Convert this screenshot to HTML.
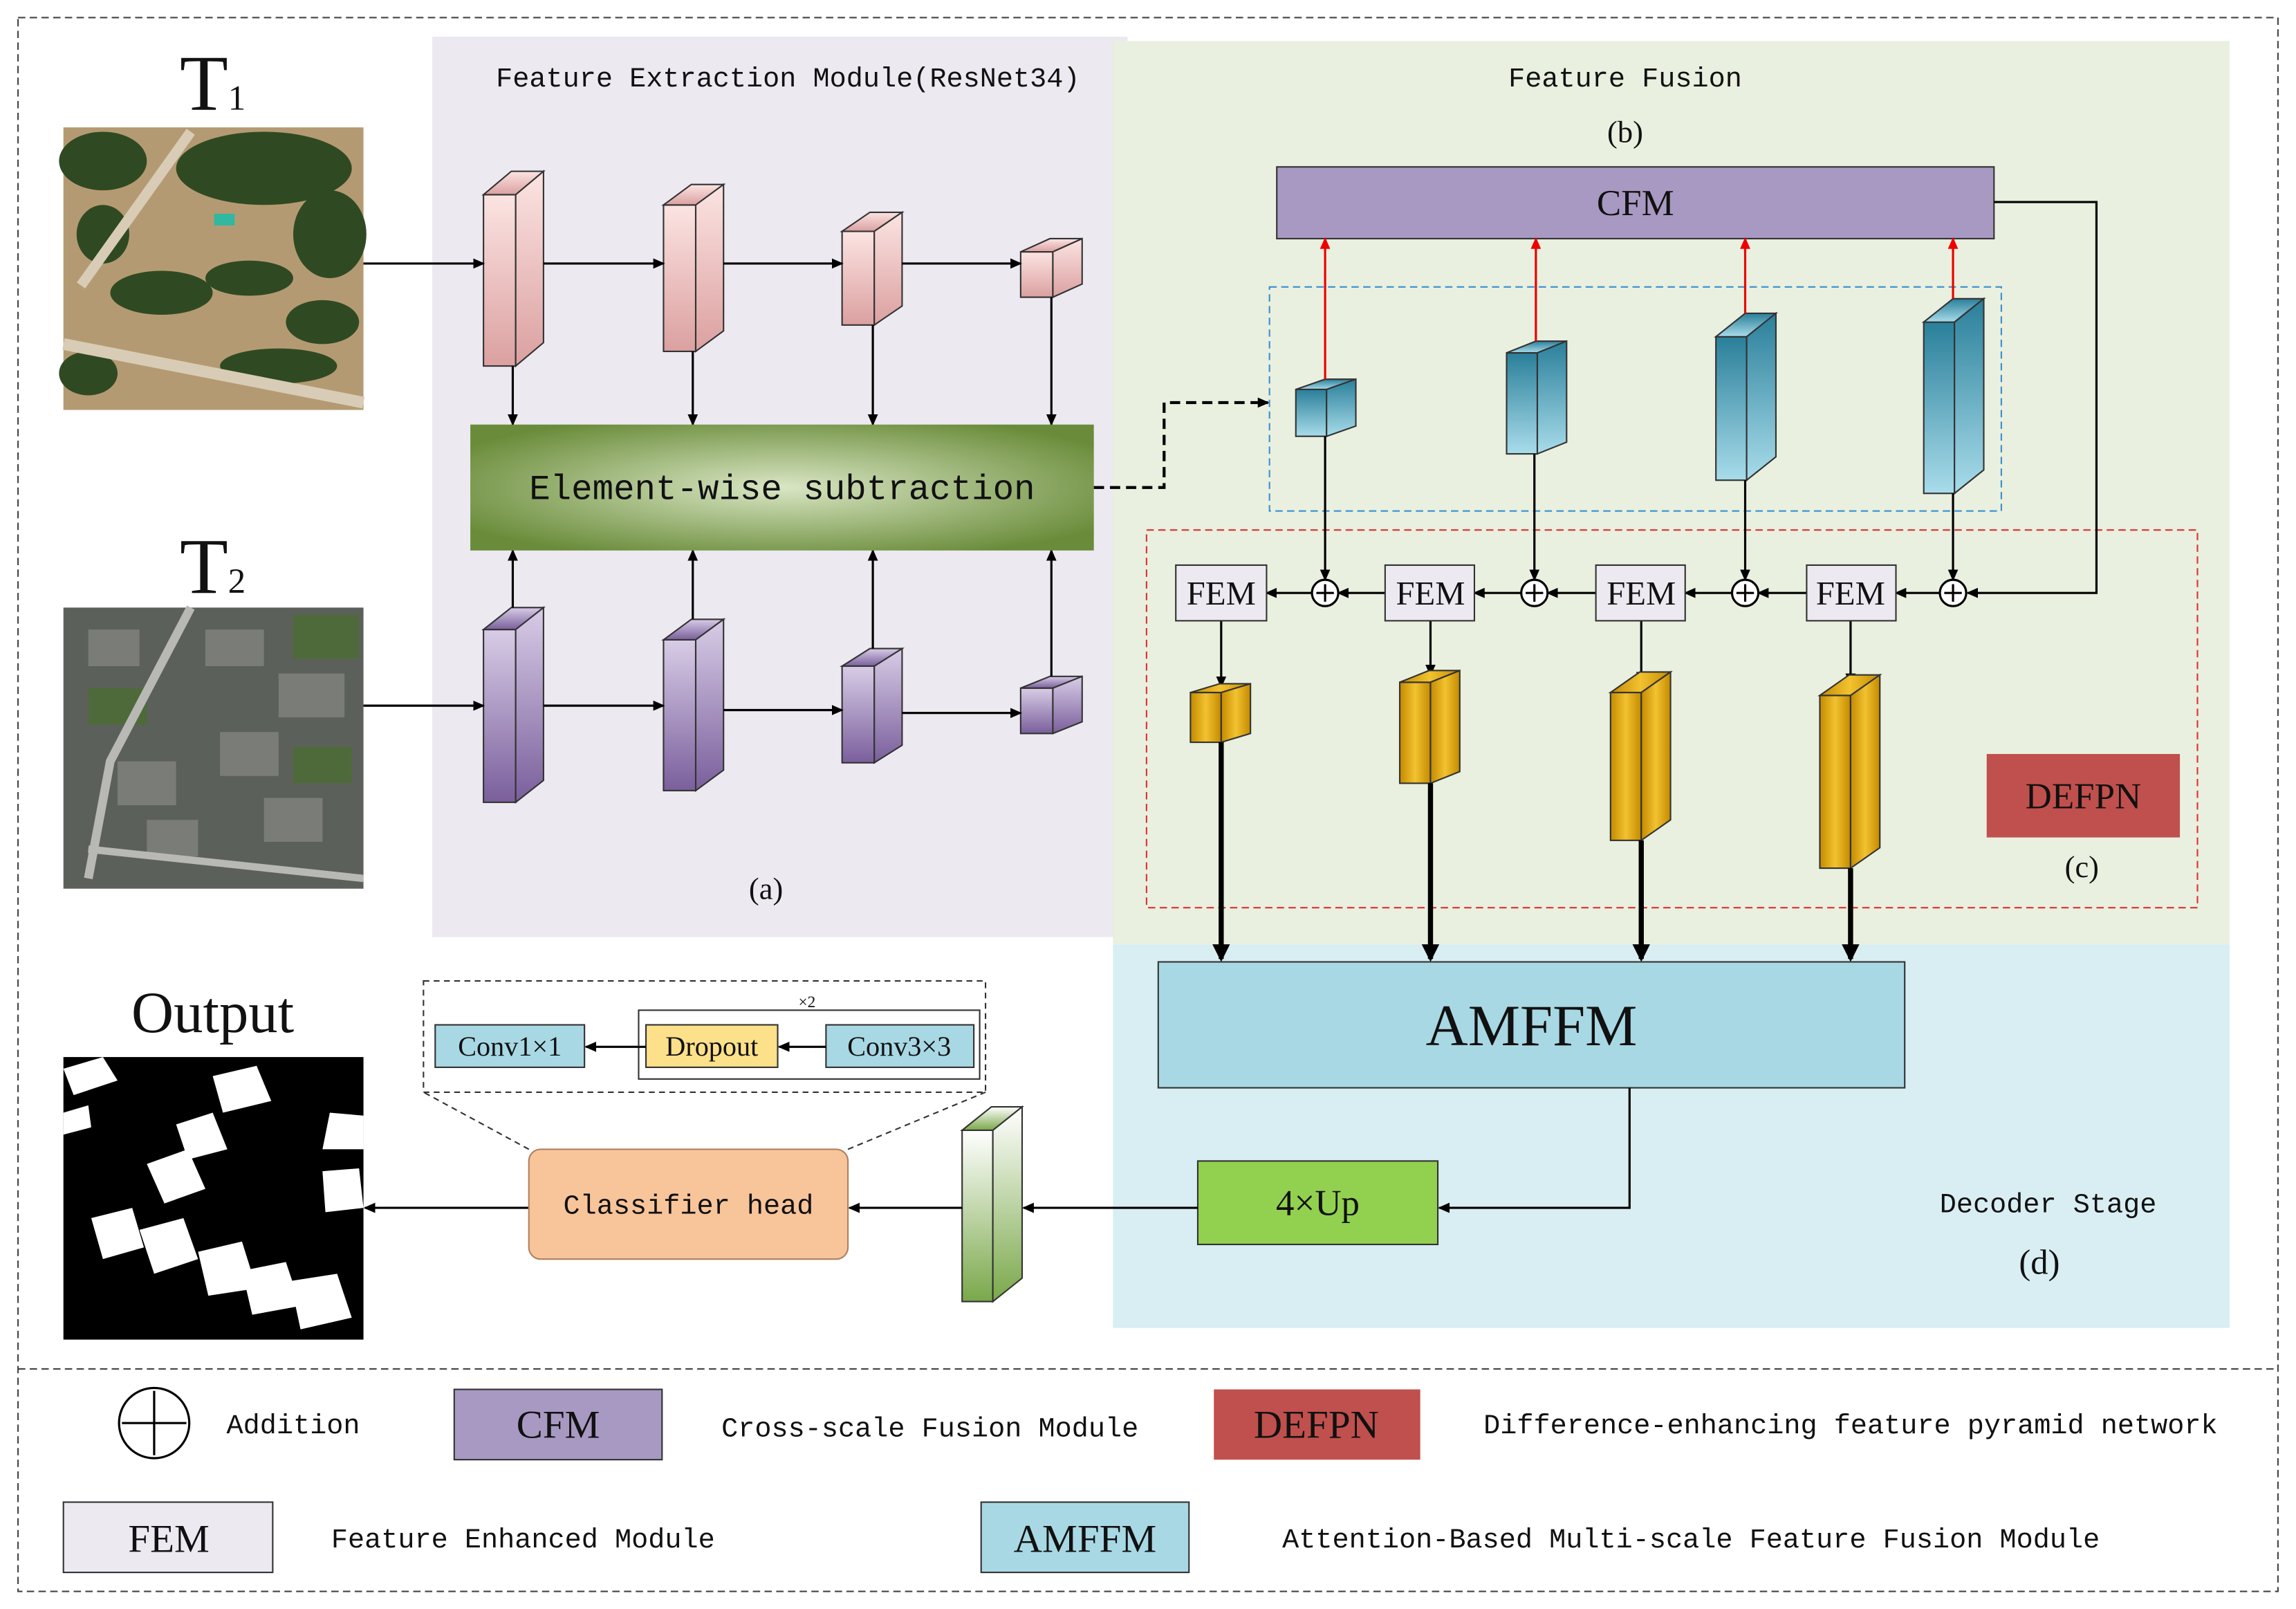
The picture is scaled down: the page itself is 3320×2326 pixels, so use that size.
<!DOCTYPE html>
<html><head><meta charset="utf-8"><style>
html,body{margin:0;padding:0;background:#fff;}
svg{display:block}
.m{font-family:"Liberation Mono","Noto Sans CJK SC",monospace;fill:#111}
.s{font-family:"Liberation Serif","Noto Serif CJK SC",serif;fill:#111}
</style></head><body>
<svg width="3320" height="2326" viewBox="0 0 1568 1099" xmlns="http://www.w3.org/2000/svg">
<defs>
<marker id="a" markerWidth="8" markerHeight="8" refX="7" refY="4" orient="auto" markerUnits="userSpaceOnUse"><path d="M0,0.5 L8,4 L0,7.5z" fill="#000"/></marker>
<marker id="ar" markerWidth="8" markerHeight="8" refX="7" refY="4" orient="auto" markerUnits="userSpaceOnUse"><path d="M0,0.5 L8,4 L0,7.5z" fill="#e00"/></marker>
<marker id="ab" markerWidth="12" markerHeight="12" refX="10" refY="6" orient="auto" markerUnits="userSpaceOnUse"><path d="M0,0 L12,6 L0,12z" fill="#000"/></marker>
<radialGradient id="gsub" cx="50%" cy="50%" r="60%"><stop offset="0" stop-color="#d9e6c4"/><stop offset="1" stop-color="#6a8c3a"/></radialGradient>
<linearGradient id="gp" x1="0" y1="0" x2="0" y2="1"><stop offset="0" stop-color="#fbe4e2"/><stop offset="1" stop-color="#dba0a0"/></linearGradient>
<linearGradient id="gv" x1="0" y1="0" x2="0" y2="1"><stop offset="0" stop-color="#d8cce6"/><stop offset="1" stop-color="#7a5f9c"/></linearGradient>
<linearGradient id="gb" x1="0" y1="0" x2="0" y2="1"><stop offset="0" stop-color="#2a7f9a"/><stop offset="1" stop-color="#a8dcea"/></linearGradient>
<linearGradient id="gg" x1="0" y1="0" x2="1" y2="0"><stop offset="0" stop-color="#c48a00"/><stop offset="0.5" stop-color="#f2c230"/><stop offset="1" stop-color="#c48a00"/></linearGradient>
<linearGradient id="gn" x1="0" y1="0" x2="0" y2="1"><stop offset="0" stop-color="#ffffff"/><stop offset="1" stop-color="#7aa84a"/></linearGradient>
</defs>

<!-- backgrounds -->
<rect x="295" y="25" width="475" height="615" fill="#ece9f1"/>
<rect x="760" y="28" width="763" height="617" fill="#e9f0df"/>
<rect x="760" y="645" width="763" height="262" fill="#d9eef3"/>

<rect x="12" y="12" width="1544" height="1075" fill="none" stroke="#444" stroke-dasharray="5,3"/>
<line x1="12" y1="935" x2="1556" y2="935" stroke="#444" stroke-dasharray="5,3"/>

<!-- T1 image -->
<text x="145" y="75" class="s" font-size="54" text-anchor="middle">T<tspan font-size="24">1</tspan></text>
<rect x="43" y="87" width="205" height="193" fill="#b49a72"/>
<g fill="#2f4a22">
<ellipse cx="70" cy="110" rx="30" ry="20"/><ellipse cx="180" cy="115" rx="60" ry="25"/><ellipse cx="225" cy="160" rx="25" ry="30"/>
<ellipse cx="110" cy="200" rx="35" ry="15"/><ellipse cx="170" cy="190" rx="30" ry="12"/><ellipse cx="220" cy="220" rx="25" ry="15"/>
<ellipse cx="60" cy="255" rx="20" ry="15"/><ellipse cx="190" cy="250" rx="40" ry="12"/><ellipse cx="70" cy="160" rx="18" ry="20"/>
</g>
<path d="M43,235 L248,275" stroke="#d8ccb6" stroke-width="8"/>
<path d="M55,195 L130,90" stroke="#d8ccb6" stroke-width="7"/>
<rect x="146" y="146" width="14" height="8" fill="#30b8a0"/>
<!-- T2 image -->
<text x="145" y="405" class="s" font-size="54" text-anchor="middle">T<tspan font-size="24">2</tspan></text>
<rect x="43" y="415" width="205" height="192" fill="#5c605a"/>
<g fill="#7a7c78"><rect x="140" y="430" width="40" height="25"/><rect x="190" y="460" width="45" height="30"/><rect x="150" y="500" width="40" height="30"/><rect x="80" y="520" width="40" height="30"/><rect x="180" y="545" width="40" height="30"/><rect x="100" y="560" width="35" height="25"/><rect x="60" y="430" width="35" height="25"/></g>
<g fill="#4f6a3a"><rect x="200" y="420" width="45" height="30"/><rect x="60" y="470" width="40" height="25"/><rect x="200" y="510" width="40" height="25"/></g>
<path d="M130,415 L75,520 L60,600" stroke="#b8b8b4" stroke-width="6" fill="none"/>
<path d="M60,580 L248,600" stroke="#b8b8b4" stroke-width="5"/>
<!-- Output -->
<text x="145" y="705" class="s" font-size="40" text-anchor="middle">Output</text>
<rect x="43" y="722" width="205" height="193" fill="#000"/>
<g fill="#fff">
<polygon points="145,735 175,728 185,752 152,760"/><polygon points="120,768 145,760 155,785 128,792"/>
<polygon points="100,795 128,785 140,812 112,822"/><polygon points="225,760 248,762 248,785 220,785"/>
<polygon points="220,800 245,798 248,825 222,828"/><polygon points="62,832 90,825 98,852 70,860"/>
<polygon points="95,840 125,832 135,860 105,870"/><polygon points="135,855 165,848 175,880 142,885"/>
<polygon points="165,868 195,862 205,892 172,898"/><polygon points="198,875 230,870 240,900 205,908"/>
<polygon points="43,730 70,722 80,738 50,748"/><polygon points="43,760 60,755 62,770 43,775"/>
</g>

<!-- titles -->
<text x="538" y="59" class="m" font-size="19" text-anchor="middle">Feature Extraction Module(ResNet34)</text>
<text x="1110" y="59" class="m" font-size="19" text-anchor="middle">Feature Fusion</text>
<text x="1110" y="97" class="s" font-size="21" text-anchor="middle">(b)</text>
<text x="523" y="614" class="s" font-size="21" text-anchor="middle">(a)</text>
<text x="1399" y="828" class="m" font-size="19" text-anchor="middle">Decoder Stage</text>
<text x="1393" y="870" class="s" font-size="24" text-anchor="middle">(d)</text>

<!-- pink boxes -->
<g fill="url(#gp)" stroke="#333" stroke-width="1">
<rect x="330" y="133" width="22" height="117"/><polygon points="330,133 352,133 371,117 349,117"/><polygon points="352,133 371,117 371,234 352,250"/>
<rect x="453" y="140" width="22" height="100"/><polygon points="453,140 475,140 494,126 472,126"/><polygon points="475,140 494,126 494,226 475,240"/>
<rect x="575" y="158" width="22" height="64"/><polygon points="575,158 597,158 616,145 594,145"/><polygon points="597,158 616,145 616,209 597,222"/>
<rect x="697" y="172" width="22" height="31"/><polygon points="697,172 719,172 739,163 717,163"/><polygon points="719,172 739,163 739,194 719,203"/>
</g>
<g fill="url(#gv)" stroke="#333" stroke-width="1">
<rect x="330" y="430" width="22" height="118"/><polygon points="330,430 352,430 371,415 349,415"/><polygon points="352,430 371,415 371,533 352,548"/>
<rect x="453" y="437" width="22" height="103"/><polygon points="453,437 475,437 494,423 472,423"/><polygon points="475,437 494,423 494,526 475,540"/>
<rect x="575" y="455" width="22" height="66"/><polygon points="575,455 597,455 616,443 594,443"/><polygon points="597,455 616,443 616,509 597,521"/>
<rect x="697" y="470" width="22" height="31"/><polygon points="697,470 719,470 739,462 717,462"/><polygon points="719,470 739,462 739,493 719,501"/>
</g>
<g stroke="#000" stroke-width="1.5" marker-end="url(#a)">
<line x1="248" y1="180" x2="330" y2="180"/><line x1="371" y1="180" x2="453" y2="180"/><line x1="494" y1="180" x2="575" y2="180"/><line x1="616" y1="180" x2="697" y2="180"/>
<line x1="248" y1="482" x2="330" y2="482"/><line x1="371" y1="482" x2="453" y2="482"/><line x1="494" y1="485" x2="575" y2="485"/><line x1="616" y1="487" x2="697" y2="487"/>
<line x1="350" y1="250" x2="350" y2="290"/><line x1="473" y1="240" x2="473" y2="290"/><line x1="596" y1="222" x2="596" y2="290"/><line x1="718" y1="203" x2="718" y2="290"/>
<line x1="350" y1="415" x2="350" y2="376"/><line x1="473" y1="423" x2="473" y2="376"/><line x1="596" y1="443" x2="596" y2="376"/><line x1="718" y1="462" x2="718" y2="376"/>
</g>
<rect x="321" y="290" width="426" height="86" fill="url(#gsub)"/>
<text x="534" y="341" class="m" font-size="24" text-anchor="middle">Element-wise subtraction</text>
<path d="M747,333 L795,333 L795,275 L866,275" fill="none" stroke="#000" stroke-width="2" stroke-dasharray="7,4" marker-end="url(#a)"/>

<!-- fusion -->
<rect x="867" y="196" width="500" height="153" fill="none" stroke="#3a8fd0" stroke-dasharray="5,3"/>
<rect x="783" y="362" width="718" height="258" fill="none" stroke="#e03030" stroke-dasharray="5,3"/>
<rect x="872" y="114" width="490" height="49" fill="#a899c2" stroke="#333"/>
<text x="1117" y="147" class="s" font-size="25" text-anchor="middle">CFM</text>
<g fill="url(#gb)" stroke="#333" stroke-width="1">
<rect x="885" y="266" width="21" height="32"/><polygon points="885,266 906,266 926,259 905,259"/><polygon points="906,266 926,259 926,291 906,298"/>
<rect x="1029" y="241" width="21" height="69"/><polygon points="1029,241 1050,241 1070,233 1049,233"/><polygon points="1050,241 1070,233 1070,302 1050,310"/>
<rect x="1172" y="230" width="21" height="98"/><polygon points="1172,230 1193,230 1213,214 1192,214"/><polygon points="1193,230 1213,214 1213,312 1193,328"/>
<rect x="1314" y="220" width="21" height="117"/><polygon points="1314,220 1335,220 1355,204 1334,204"/><polygon points="1335,220 1355,204 1355,321 1335,337"/>
</g>
<g stroke="#e00" stroke-width="1.5" marker-end="url(#ar)">
<line x1="905" y1="259" x2="905" y2="163"/><line x1="1049" y1="233" x2="1049" y2="163"/><line x1="1192" y1="214" x2="1192" y2="163"/><line x1="1334" y1="204" x2="1334" y2="163"/>
</g>
<path d="M1362,138 L1432,138 L1432,405 L1344,405" fill="none" stroke="#000" stroke-width="1.5" marker-end="url(#a)"/>
<g stroke="#000" stroke-width="1.5" marker-end="url(#a)">
<line x1="905" y1="298" x2="905" y2="396"/><line x1="1048" y1="310" x2="1048" y2="396"/><line x1="1192" y1="328" x2="1192" y2="396"/><line x1="1334" y1="337" x2="1334" y2="396"/>
<line x1="946" y1="405" x2="914" y2="405"/><line x1="896" y1="405" x2="865" y2="405"/>
<line x1="1090" y1="405" x2="1057" y2="405"/><line x1="1039" y1="405" x2="1007" y2="405"/>
<line x1="1234" y1="405" x2="1201" y2="405"/><line x1="1183" y1="405" x2="1151" y2="405"/>
<line x1="1325" y1="405" x2="1295" y2="405"/>
<line x1="834" y1="424" x2="834" y2="469"/><line x1="977" y1="424" x2="977" y2="461"/><line x1="1121" y1="424" x2="1121" y2="466"/><line x1="1264" y1="424" x2="1264" y2="467"/>
</g>
<g fill="#fff" stroke="#000" stroke-width="1.5">
<circle cx="905" cy="405" r="9"/><circle cx="1048" cy="405" r="9"/><circle cx="1192" cy="405" r="9"/><circle cx="1334" cy="405" r="9"/>
</g>
<g stroke="#000" stroke-width="1.5">
<path d="M899,405h12M905,399v12M1042,405h12M1048,399v12M1186,405h12M1192,399v12M1328,405h12M1334,399v12"/>
</g>
<g fill="#ece9f1" stroke="#333">
<rect x="803" y="386" width="62" height="38"/><rect x="946" y="386" width="61" height="38"/><rect x="1090" y="386" width="61" height="38"/><rect x="1234" y="386" width="61" height="38"/>
</g>
<g class="s" font-size="23" text-anchor="middle">
<text x="834" y="413">FEM</text><text x="977" y="413">FEM</text><text x="1121" y="413">FEM</text><text x="1264" y="413">FEM</text>
</g>
<g fill="url(#gg)" stroke="#333" stroke-width="1">
<rect x="813" y="473" width="21" height="34"/><polygon points="813,473 834,473 854,467 833,467"/><polygon points="834,473 854,467 854,501 834,507"/>
<rect x="956" y="466" width="21" height="69"/><polygon points="956,466 977,466 997,458 976,458"/><polygon points="977,466 997,458 997,527 977,535"/>
<rect x="1100" y="473" width="21" height="101"/><polygon points="1100,473 1121,473 1141,459 1120,459"/><polygon points="1121,473 1141,459 1141,560 1121,574"/>
<rect x="1243" y="475" width="21" height="118"/><polygon points="1243,475 1264,475 1284,461 1263,461"/><polygon points="1264,475 1284,461 1284,579 1264,593"/>
</g>
<g stroke="#000" stroke-width="3.5" marker-end="url(#ab)">
<line x1="834" y1="507" x2="834" y2="655"/><line x1="977" y1="535" x2="977" y2="655"/><line x1="1121" y1="574" x2="1121" y2="655"/><line x1="1264" y1="593" x2="1264" y2="655"/>
</g>
<rect x="1357" y="515" width="132" height="57" fill="#c0504d"/>
<text x="1423" y="552" class="s" font-size="25" text-anchor="middle">DEFPN</text>
<text x="1422" y="599" class="s" font-size="21" text-anchor="middle">(c)</text>

<!-- decoder -->
<rect x="791" y="657" width="510" height="86" fill="#a8d8e4" stroke="#333"/>
<text x="1046" y="714" class="s" font-size="40" text-anchor="middle">AMFFM</text>
<path d="M1113,743 L1113,825 L983,825" fill="none" stroke="#000" stroke-width="1.5" marker-end="url(#a)"/>
<rect x="818" y="793" width="164" height="57" fill="#92d050" stroke="#333"/>
<text x="900" y="830" class="s" font-size="25" text-anchor="middle">4×Up</text>
<g fill="url(#gn)" stroke="#333" stroke-width="1">
<rect x="657" y="772" width="21" height="117"/><polygon points="657,772 678,772 698,756 677,756"/><polygon points="678,772 698,756 698,873 678,889"/>
</g>
<g stroke="#000" stroke-width="1.5" marker-end="url(#a)">
<line x1="818" y1="825" x2="699" y2="825"/><line x1="657" y1="825" x2="580" y2="825"/><line x1="361" y1="825" x2="249" y2="825"/>
</g>
<rect x="361" y="785" width="218" height="75" rx="8" fill="#f8c49a" stroke="#b08060"/>
<text x="470" y="829" class="m" font-size="19" text-anchor="middle">Classifier head</text>
<rect x="289" y="670" width="384" height="76" fill="#fff" stroke="#333" stroke-dasharray="4,3"/>
<line x1="361" y1="785" x2="289" y2="746" stroke="#333" stroke-dasharray="4,3"/>
<line x1="579" y1="785" x2="673" y2="746" stroke="#333" stroke-dasharray="4,3"/>
<rect x="436" y="690" width="233" height="47" fill="none" stroke="#333"/>
<text x="551" y="688" class="s" font-size="11" text-anchor="middle">×2</text>
<rect x="297" y="700" width="102" height="29" fill="#a8d8e4" stroke="#333"/>
<rect x="441" y="700" width="90" height="29" fill="#fde08a" stroke="#333"/>
<rect x="564" y="700" width="101" height="29" fill="#a8d8e4" stroke="#333"/>
<g class="s" font-size="19" text-anchor="middle">
<text x="348" y="721">Conv1×1</text><text x="486" y="721">Dropout</text><text x="614" y="721">Conv3×3</text>
</g>
<g stroke="#000" stroke-width="1.5" marker-end="url(#a)">
<line x1="441" y1="715" x2="400" y2="715"/><line x1="564" y1="715" x2="532" y2="715"/>
</g>

<!-- legend -->
<circle cx="105" cy="972" r="24" fill="#fff" stroke="#000" stroke-width="1.5"/>
<path d="M83,972h44M105,950v44" stroke="#000" stroke-width="1.5"/>
<text x="200" y="979" class="m" font-size="19" text-anchor="middle">Addition</text>
<rect x="310" y="949" width="142" height="48" fill="#a899c2" stroke="#333"/>
<text x="381" y="982" class="s" font-size="27" text-anchor="middle">CFM</text>
<text x="635" y="981" class="m" font-size="19" text-anchor="middle">Cross-scale Fusion Module</text>
<rect x="829" y="949" width="141" height="48" fill="#c0504d"/>
<text x="899" y="982" class="s" font-size="27" text-anchor="middle">DEFPN</text>
<text x="1264" y="979" class="m" font-size="19" text-anchor="middle">Difference-enhancing feature pyramid network</text>
<rect x="43" y="1026" width="143" height="48" fill="#ece9f1" stroke="#333"/>
<text x="115" y="1060" class="s" font-size="27" text-anchor="middle">FEM</text>
<text x="357" y="1057" class="m" font-size="19" text-anchor="middle">Feature Enhanced Module</text>
<rect x="670" y="1026" width="142" height="48" fill="#a8d8e4" stroke="#333"/>
<text x="741" y="1060" class="s" font-size="27" text-anchor="middle">AMFFM</text>
<text x="1155" y="1057" class="m" font-size="19" text-anchor="middle">Attention-Based Multi-scale Feature Fusion Module</text>
</svg>
</body></html>
